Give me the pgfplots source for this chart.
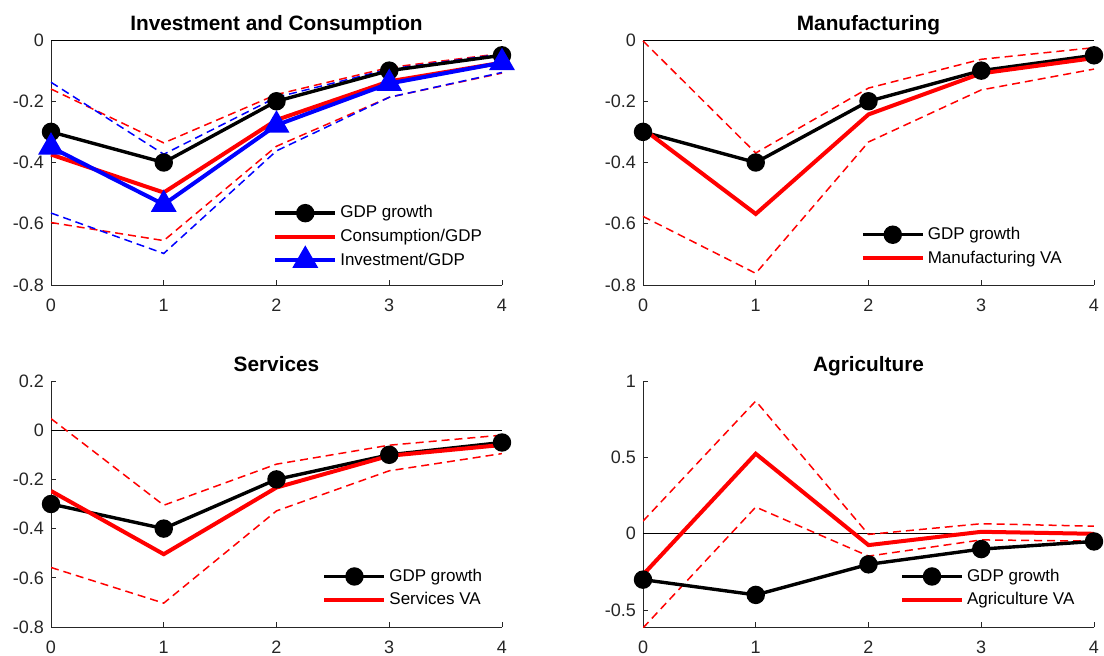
\documentclass[border=0pt]{standalone}
\usepackage{fontspec}
\setmainfont{Liberation Sans}
\usepackage{pgfplots}
\pgfplotsset{compat=1.18}

\definecolor{axgray}{gray}{0.15}
\newcommand{\fs}{\fontsize{9}{10}\selectfont}
\newcommand{\fl}{\fontsize{8.5}{10}\selectfont}
\newcommand{\ft}{\fontsize{10.4}{12}\selectfont}

\pgfplotsset{
  irf/.style={
    scale only axis, width=225.5pt,
    xmin=0, xmax=4, xtick={0,1,2,3,4},
    axis x line=bottom, axis y line=left,
    axis line style={-, axgray, line width=0.45pt},
    tick align=inside, major tick length=2.5pt,
    tick style={axgray, line width=0.45pt},
    ticklabel style={font=\fs, text=axgray},
    xticklabel style={yshift=-3.5pt},
    /pgf/number format/assume math mode=true,
    every axis title shift=0pt,
    title style={font=\bfseries\ft, anchor=base, yshift=5pt},
    legend cell align=left,
    legend style={draw=none, fill=none, font=\fl, inner sep=0pt, row sep=0pt,
      nodes={inner sep=1.5pt, text height=6.8pt, text depth=2pt}},
    legend image code/.code={\draw[mark repeat=2, mark phase=2, #1]
      plot coordinates {(0pt,0pt) (15pt,0pt) (30pt,0pt)};},
  },
  gdp/.style={black, line width=1.7pt, mark=*, mark size=3.75pt, mark options={solid}},
  va/.style={red, line width=2pt},
  inv/.style={blue, line width=2pt, mark=triangle*, mark size=5.5pt, mark options={solid}},
  band/.style={#1, line width=0.75pt, dash pattern=on 4pt off 2.5pt, forget plot},
  band/.default=red,
  zero/.style={black, line width=0.5pt, forget plot},
}

\begin{document}
\begin{tikzpicture}
\path[use as bounding box] (0,0) rectangle (552pt,327.5pt);

% Investment and Consumption
\begin{axis}[irf, at={(25.5pt,185pt)}, anchor=south west, height=122.5pt,
  ymin=-0.8, ymax=0, ytick={-0.8,-0.6,-0.4,-0.2,0}, clip=false,
  title={Investment and Consumption},
  legend style={at={(0.492,0.343)}, anchor=north west}]
\addplot[zero] coordinates {(0,0) (4,0)};
\addplot[band] coordinates {(0,-0.160) (1,-0.336) (2,-0.178) (3,-0.090) (4,-0.044)};
\addplot[band] coordinates {(0,-0.596) (1,-0.655) (2,-0.347) (3,-0.187) (4,-0.108)};
\addplot[band=blue] coordinates {(0,-0.138) (1,-0.373) (2,-0.187) (3,-0.095) (4,-0.046)};
\addplot[band=blue] coordinates {(0,-0.565) (1,-0.697) (2,-0.362) (3,-0.187) (4,-0.106)};
\addplot[gdp] coordinates {(0,-0.30) (1,-0.40) (2,-0.20) (3,-0.10) (4,-0.05)};
\addlegendentry{GDP growth}
\addplot[va] coordinates {(0,-0.374) (1,-0.498) (2,-0.261) (3,-0.135) (4,-0.074)};
\addlegendentry{Consumption/GDP}
\addplot[inv] coordinates {(0,-0.350) (1,-0.537) (2,-0.278) (3,-0.142) (4,-0.074)};
\addlegendentry{Investment/GDP}
\end{axis}

% Manufacturing
\begin{axis}[irf, at={(321.5pt,185pt)}, anchor=south west, height=122.5pt,
  ymin=-0.8, ymax=0, ytick={-0.8,-0.6,-0.4,-0.2,0}, clip=false,
  title={Manufacturing},
  legend style={at={(0.482,0.255)}, anchor=north west}]
\addplot[zero] coordinates {(0,0) (4,0)};
\addplot[band] coordinates {(0,-0.003) (1,-0.369) (2,-0.157) (3,-0.063) (4,-0.025)};
\addplot[band] coordinates {(0,-0.576) (1,-0.762) (2,-0.333) (3,-0.163) (4,-0.095)};
\addplot[gdp] coordinates {(0,-0.30) (1,-0.40) (2,-0.20) (3,-0.10) (4,-0.05)};
\addlegendentry{GDP growth}
\addplot[va] coordinates {(0,-0.290) (1,-0.568) (2,-0.243) (3,-0.109) (4,-0.059)};
\addlegendentry{Manufacturing VA}
\end{axis}

% Services
\begin{axis}[irf, at={(25.5pt,14pt)}, anchor=south west, height=123pt,
  ymin=-0.8, ymax=0.2, ytick={-0.8,-0.6,-0.4,-0.2,0,0.2},
  title={Services},
  legend style={at={(0.601,0.255)}, anchor=north west}]
\addplot[zero] coordinates {(0,0) (4,0)};
\addplot[band] coordinates {(0,0.047) (1,-0.305) (2,-0.138) (3,-0.061) (4,-0.020)};
\addplot[band] coordinates {(0,-0.558) (1,-0.703) (2,-0.328) (3,-0.165) (4,-0.095)};
\addplot[gdp] coordinates {(0,-0.30) (1,-0.40) (2,-0.20) (3,-0.10) (4,-0.05)};
\addlegendentry{GDP growth}
\addplot[va] coordinates {(0,-0.247) (1,-0.504) (2,-0.233) (3,-0.104) (4,-0.060)};
\addlegendentry{Services VA}
\end{axis}

% Agriculture
\begin{axis}[irf, at={(321.5pt,14pt)}, anchor=south west, height=123pt,
  ymin=-0.61, ymax=1, ytick={-0.5,0,0.5,1},
  title={Agriculture},
  legend style={at={(0.569,0.255)}, anchor=north west}]
\addplot[zero] coordinates {(0,0) (4,0)};
\addplot[band] coordinates {(0,0.083) (1,0.869) (2,-0.004) (3,0.066) (4,0.050)};
\addplot[band] coordinates {(0,-0.616) (1,0.175) (2,-0.146) (3,-0.040) (4,-0.048)};
\addplot[gdp] coordinates {(0,-0.30) (1,-0.40) (2,-0.20) (3,-0.10) (4,-0.05)};
\addlegendentry{GDP growth}
\addplot[va] coordinates {(0,-0.268) (1,0.524) (2,-0.074) (3,0.013) (4,0.000)};
\addlegendentry{Agriculture VA}
\end{axis}
\end{tikzpicture}
\end{document}
